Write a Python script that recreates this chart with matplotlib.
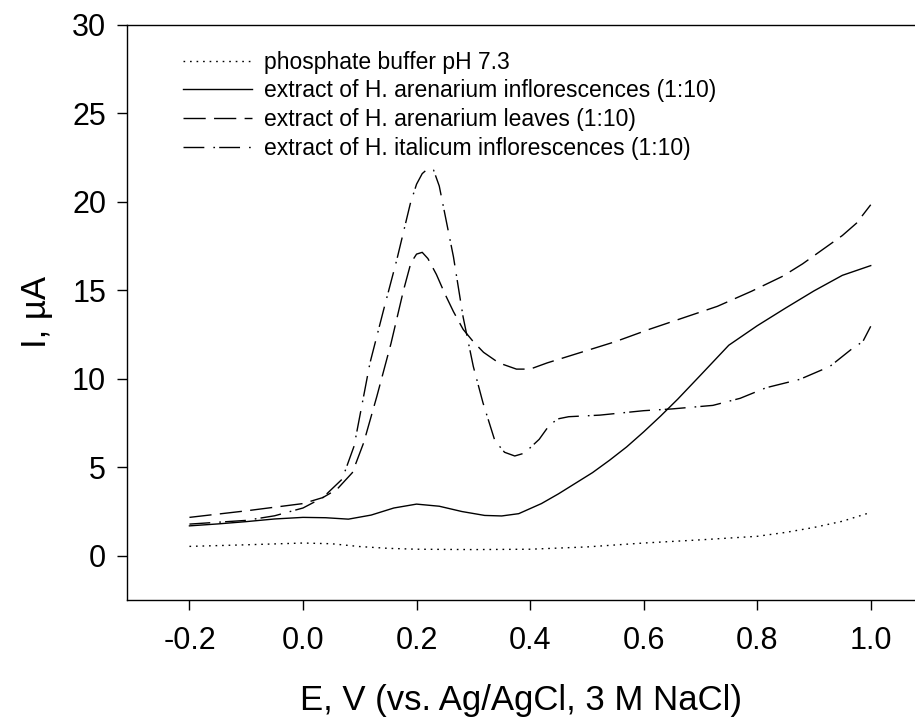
import matplotlib
matplotlib.use("Agg")
import matplotlib.pyplot as plt

plt.rcParams['font.family'] = ['Liberation Sans', 'DejaVu Sans']
plt.rcParams['axes.unicode_minus'] = False

# phosphate buffer pH 7.3
buffer_x = [-0.2, -0.1, 0.0, 0.05, 0.1, 0.15, 0.2, 0.3, 0.4, 0.5, 0.6, 0.7,
            0.8, 0.85, 0.9, 0.95, 1.0]
buffer_y = [0.53, 0.62, 0.72, 0.68, 0.52, 0.42, 0.37, 0.35, 0.37, 0.5, 0.72,
            0.9, 1.1, 1.32, 1.6, 1.95, 2.45]

# H. arenarium inflorescences
solid_x = [-0.2, -0.15, -0.1, -0.05, 0.0, 0.04, 0.08, 0.12, 0.16, 0.2, 0.24,
           0.28, 0.32, 0.35, 0.38, 0.42, 0.45, 0.48, 0.51, 0.54, 0.57, 0.6,
           0.63, 0.66, 0.7, 0.75, 0.8, 0.85, 0.9, 0.95, 1.0]
solid_y = [1.69, 1.8, 1.93, 2.08, 2.17, 2.15, 2.07, 2.3, 2.7, 2.92, 2.8, 2.5,
           2.28, 2.25, 2.38, 2.95, 3.5, 4.1, 4.7, 5.4, 6.15, 7.0, 7.9, 8.85,
           10.2, 11.9, 13.0, 14.0, 14.97, 15.85, 16.4]

# H. arenarium leaves
dashed_x = [-0.2, -0.1, 0.0, 0.035, 0.06, 0.087, 0.107, 0.13, 0.155, 0.177,
            0.19, 0.2, 0.21, 0.22, 0.235, 0.25, 0.265, 0.282, 0.3, 0.318,
            0.345, 0.376, 0.4, 0.43, 0.49, 0.55, 0.61, 0.67, 0.73, 0.79,
            0.845, 0.88, 0.915, 0.95, 0.975, 1.0]
dashed_y = [2.17, 2.54, 2.95, 3.29, 3.76, 4.7, 6.4, 9.0, 12.0, 15.0, 16.55,
            17.05, 17.15, 16.8, 15.9, 14.8, 13.8, 12.8, 12.1, 11.5, 10.9,
            10.55, 10.55, 10.9, 11.5, 12.1, 12.8, 13.45, 14.1, 14.95, 15.8,
            16.5, 17.3, 18.1, 18.8, 19.84]

# H. italicum inflorescences
dashdot_x = [-0.2, -0.1, -0.05, 0.0, 0.035, 0.069, 0.09, 0.118, 0.142, 0.165,
             0.189, 0.2, 0.21, 0.22, 0.23, 0.24, 0.25, 0.265, 0.282, 0.3,
             0.317, 0.338, 0.355, 0.373, 0.39, 0.416, 0.435, 0.451, 0.468,
             0.523, 0.6, 0.65, 0.722, 0.77, 0.816, 0.875, 0.928, 0.969,
             0.986, 1.0]
dashdot_y = [1.79, 2.0, 2.26, 2.7, 3.29, 4.33, 6.2, 10.9, 13.9, 16.7, 19.9,
             21.0, 21.6, 21.88, 21.8, 20.9, 19.3, 16.9, 13.5, 10.7, 8.65,
             6.5, 5.85, 5.64, 5.8, 6.58, 7.43, 7.75, 7.86, 7.95, 8.2, 8.3,
             8.5, 8.9, 9.5, 9.97, 10.7, 11.75, 12.1, 12.97]

labels = ['phosphate buffer pH 7.3',
          'extract of H. arenarium inflorescences (1:10)',
          'extract of H. arenarium leaves (1:10)',
          'extract of H. italicum inflorescences (1:10)']

x_ticks = [-0.2, 0.0, 0.2, 0.4, 0.6, 0.8, 1.0]
y_ticks = [0, 5, 10, 15, 20, 25, 30]

fig = plt.figure(figsize=(9.15, 7.22), dpi=100)
ax = fig.add_axes([127 / 915, 122 / 722, 1 - 127 / 915, 575 / 722])

lw = 1.0
ax.plot(buffer_x, buffer_y, color='black', lw=lw, linestyle=(0, (1.2, 3.5)),
        label=labels[0])
ax.plot(solid_x, solid_y, color='black', lw=lw, linestyle='-', label=labels[1])
ax.plot(dashed_x, dashed_y, color='black', lw=lw, linestyle=(0, (16, 6)),
        label=labels[2])
ax.plot(dashdot_x, dashdot_y, color='black', lw=lw,
        linestyle=(0, (15, 6.5, 1.2, 3)), label=labels[3])

ax.set_xlim(-0.31, 1.078)
ax.set_ylim(-2.5, 30)
ax.set_xticks(x_ticks)
ax.set_xticklabels([f'{v:.1f}' for v in x_ticks])
ax.set_yticks(y_ticks)
ax.tick_params(direction='out', length=7, width=1, labelsize=22,
               colors='black')
ax.tick_params(axis='x', pad=12)
ax.tick_params(axis='y', pad=8)
ax.spines['right'].set_visible(False)
for s in ['left', 'bottom', 'top']:
    ax.spines[s].set_linewidth(1.0)

ax.set_xlabel('E, V (vs. Ag/AgCl, 3 M NaCl)', fontsize=25, labelpad=20)
ax.set_ylabel('I, µA', fontsize=25, labelpad=14)

ax.legend(loc='upper left', bbox_to_anchor=(0.071, 0.955), frameon=False,
          fontsize=16.5, handlelength=3.0, handletextpad=0.55,
          labelspacing=0.245, borderpad=0, borderaxespad=0)

fig.savefig('out.png', dpi=100)
